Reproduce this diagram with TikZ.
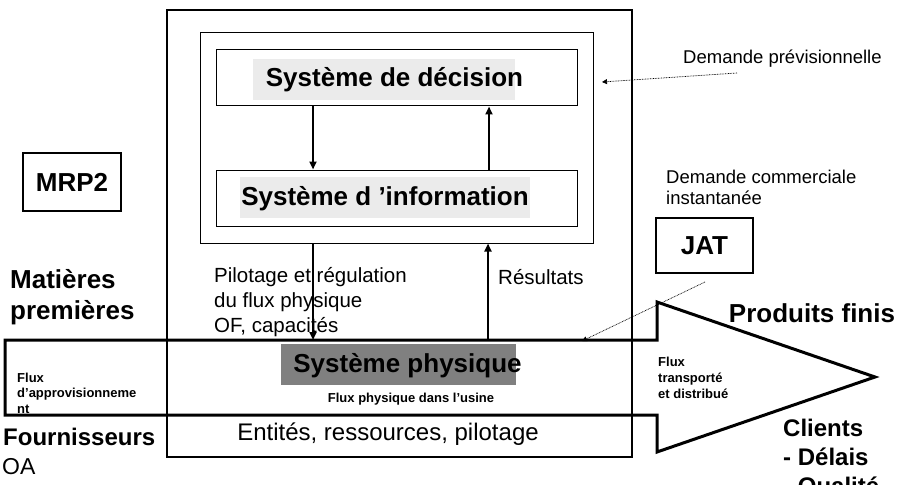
\documentclass[tikz,border=0pt]{standalone}
\usepackage{fontspec}
\setmainfont{Liberation Sans}
\usetikzlibrary{arrows.meta,calc}
\newcommand\fsz[2]{\fontsize{#1}{#2}\selectfont}
\begin{document}
\begin{tikzpicture}[x=1pt,y=-1pt,
  thinbox/.style={draw, line width=1pt, inner sep=0pt},
  thickbox/.style={draw, line width=2.4pt, inner sep=0pt},
  hl/.style={fill=black!8, inner sep=0pt},
  lbl/.style={inner sep=0pt, align=left},
  arr/.style={line width=2.2pt, -{Triangle[length=8pt,width=7pt]}},
  dotarr/.style={line width=0.7pt, dash pattern=on 0.8pt off 0.8pt, -{Triangle[length=5pt,width=5pt]}},
  band/.style={line width=3pt, line join=miter}]
\useasboundingbox (0,0) rectangle (901,484);

% outer and inner frames
\node[thickbox, line width=2.2pt, minimum width=465, minimum height=447] (outer) at (399.5,233.5) {};
\node[thinbox, minimum width=393, minimum height=210] (inner) at (396.5,138) {};

% decision / information systems
\node[thinbox, minimum width=361, minimum height=56] (dec) at (396.5,78) {};
\node[hl, minimum width=262, minimum height=41] (dechl) at (384,79.5) {};
\node[inner sep=0pt, font=\fsz{26}{31}\bfseries] (dect) at (394.5,80) {Système de décision};
\node[thinbox, minimum width=361, minimum height=56] (info) at (396.5,198) {};
\node[hl, minimum width=290, minimum height=41] (infohl) at (385,197.5) {};
\node[inner sep=0pt, font=\fsz{26}{31}\bfseries] (infot) at (385,199) {Système d ’information};

\draw[arr] (dec.south -| 313,0) -- (info.north -| 313,0);
\draw[arr] (info.north -| 489,0) -- (dec.south -| 489,0);

% flux band (big arrow)
\coordinate (b1) at (5,340);
\coordinate (b2) at (657,340);
\coordinate (b3) at (657,302);
\coordinate (tip) at (875,377);
\coordinate (b5) at (657,452);
\coordinate (b6) at (657,415);
\coordinate (b7) at (5,415);
\draw[band] (b1) -- (b2) -- (b3) -- (tip) -- (b5) -- (b6) -- (b7) -- cycle;

% links inner frame <-> physical system
\draw[arr] (inner.south -| 313,0) -- (b1 -| 313,0);
\draw[arr] (b1 -| 488,0) -- (inner.south -| 488,0);

\node[lbl, anchor=west, font=\fsz{20.5}{25}] (pilot) at (214,302) {Pilotage et régulation\\du flux physique\\OF, capacités};
\node[lbl, anchor=west, font=\fsz{20.5}{25}] (res) at (498,277) {Résultats};

% physical system
\node[fill=black!50, inner sep=0pt, minimum width=235, minimum height=41] (physhl) at (398.5,364.5) {};
\node[inner sep=0pt, font=\fsz{26}{31}\bfseries] (phys) at (407.5,366) {Système physique};
\node[inner sep=0pt, font=\fsz{13}{16}\bfseries] (usine) at (411,399) {Flux physique dans l’usine};
\node[inner sep=0pt, font=\fsz{24}{29}] (ent) at (388,434) {Entités, ressources, pilotage};

% left side labels
\node[thickbox, minimum width=98, minimum height=58, font=\fsz{26}{31}\bfseries] (mrp) at (72,182) {MRP2};
\node[lbl, anchor=west, font=\fsz{26}{31}\bfseries] (mat) at (10,297) {Matières\\premières};
\node[lbl, anchor=west, font=\fsz{13}{15.5}\bfseries] (appro) at (17,393) {Flux\\d’approvisionneme\\nt};
\node[lbl, anchor=west, font=\fsz{24}{29}\bfseries] (four) at (3,437) {Fournisseurs};
\node[lbl, anchor=west, font=\fsz{23}{28}] (oa) at (2,467) {OA};

% right side labels
\node[lbl, anchor=west, font=\fsz{18.5}{21}] (dp) at (683,59) {Demande prévisionnelle};
\coordinate (dps) at (737,73);
\coordinate (dpe) at (602,82);
\draw[dotarr] (dps) -- (dpe);
\node[lbl, anchor=west, font=\fsz{18.5}{21}] (dc) at (666,187) {Demande commerciale\\instantanée};
\node[thickbox, minimum width=97, minimum height=55, font=\fsz{26}{31}\bfseries] (jat) at (704.5,245.5) {JAT};
\coordinate (js) at (705,282);
\coordinate (je) at (582,341);
\draw[dotarr] (js) -- (je);
\node[inner sep=0pt, font=\fsz{26}{31}\bfseries] (pf) at (812,313) {Produits finis};
\node[lbl, anchor=west, font=\fsz{13}{16}\bfseries] (ftd) at (658,378) {Flux\\transporté\\et distribué};
\node[lbl, anchor=north west, font=\fsz{24}{29}\bfseries] (cli) at (783,419) {Clients\\- Délais\\- Qualité};
\end{tikzpicture}
\end{document}
